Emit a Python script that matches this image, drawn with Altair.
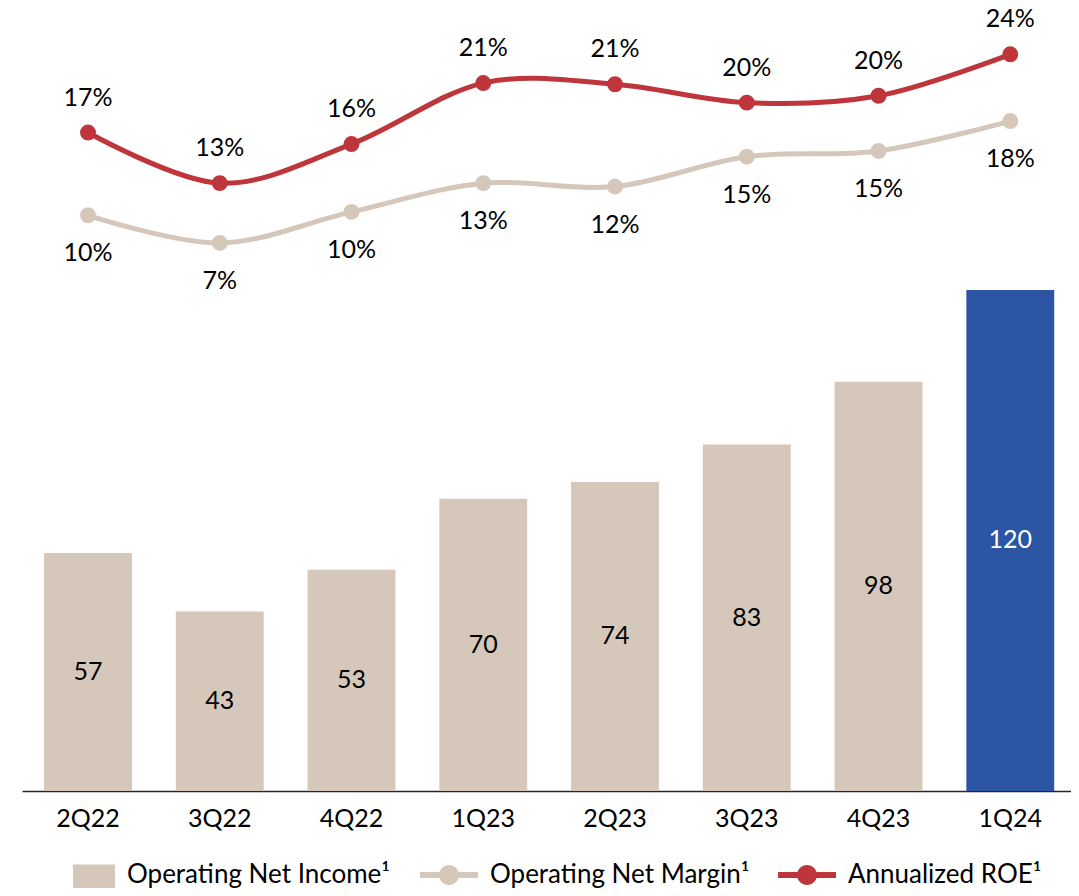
import math
import altair as alt
import pandas as pd

quarters = ["2Q22", "3Q22", "4Q22", "1Q23", "2Q23", "3Q23", "4Q23", "1Q24"]
net_income = [57, 43, 53, 70, 74, 83, 98, 120]
net_margin = [0.098, 0.074, 0.101, 0.126, 0.123, 0.149, 0.154, 0.180]
annual_roe = [0.170, 0.126, 0.160, 0.213, 0.212, 0.196, 0.202, 0.238]

INCOME = "Operating Net Income¹"
LATEST = "Latest quarter"
MARGIN = "Operating Net Margin¹"
ROE = "Annualized ROE¹"
bar_group = [INCOME] * 7 + [LATEST]

TAN = "#D5C8BB"
BLUE = "#2C55A3"
RED = "#BE353B"
FONT = "Lato"
FS = 25
LFS = 26

df = pd.DataFrame({
    "idx": list(range(len(quarters))),
    "quarter": quarters,
    "income": net_income,
    "group": bar_group,
    MARGIN: net_margin,
    ROE: annual_roe,
})

x = alt.X(
    "quarter:N", sort=quarters,
    scale=alt.Scale(paddingInner=0.333, paddingOuter=0.1475, align=0.568, round=False),
    axis=alt.Axis(title=None, labelAngle=0, labelFont=FONT, labelFontSize=FS,
                  labelColor="#000000", labelPadding=15, ticks=False,
                  domainColor="#262626", domainWidth=1.5, grid=False),
)

base = alt.Chart(df)
ybar_scale = alt.Scale(domain=[0, 187.5], nice=False, zero=True)

SQUARE = "M-1,-0.5L1,-0.5L1,1.6L-1,1.6Z"

bars = base.mark_bar().encode(
    x=x,
    y=alt.Y("income:Q", scale=ybar_scale, axis=None),
    color=alt.Color(
        "group:N",
        scale=alt.Scale(domain=[INCOME, LATEST], range=[TAN, BLUE]),
        legend=alt.Legend(title=None, orient="none", legendX=51, legendY=846,
                          values=[INCOME], symbolType=SQUARE, symbolSize=1764,
                          symbolStrokeWidth=0, labelFont=FONT, labelFontSize=LFS,
                          labelColor="#000000", labelOffset=12, padding=0,
                          labelLimit=0),
    ),
)

bar_text = base.transform_calculate(half="datum.income / 2").mark_text(
    font=FONT, fontSize=FS, baseline="middle"
).encode(
    x=x,
    y=alt.Y("half:Q", scale=ybar_scale, axis=None),
    text=alt.Text("income:Q"),
    color=alt.condition("datum.quarter == '1Q24'", alt.value("#FFFFFF"), alt.value("#000000")),
)

bar_layer = alt.layer(bars, bar_text)

lines_base = base.transform_fold([MARGIN, ROE], as_=["series", "pct"])
yl = alt.Y("pct:Q", scale=alt.Scale(domain=[-0.4026, 0.2783], nice=False, zero=False), axis=None)

# legend glyph: a short thick line with a dot in the middle (unit coordinates)
r = 0.345
circle_pts = ["%.4f,%.4f" % (r * math.cos(2 * math.pi * k / 32), r * math.sin(2 * math.pi * k / 32))
              for k in range(32)]
LEG_PATH = "M-1,-0.1L1,-0.1L1,0.1L-1,0.1Z M" + "L".join(circle_pts) + "Z"

margin_line = lines_base.transform_filter(alt.datum.series == MARGIN).mark_line(
    interpolate="cardinal", strokeWidth=5, color=TAN
).encode(x=x, y=yl, order="idx:Q")

roe_line = lines_base.transform_filter(alt.datum.series == ROE).mark_line(
    interpolate="cardinal", strokeWidth=5, color=RED
).encode(x=x, y=yl, order="idx:Q")

points = lines_base.mark_circle(size=254, opacity=1).encode(
    x=x, y=yl,
    fill=alt.Fill(
        "series:N", scale=alt.Scale(domain=[MARGIN, ROE], range=[TAN, RED]),
        legend=alt.Legend(title=None, orient="none", legendX=398, legendY=838,
                          direction="horizontal", symbolType=LEG_PATH, symbolSize=3364,
                          symbolStrokeWidth=0, symbolOpacity=1, labelFont=FONT,
                          labelFontSize=LFS, labelColor="#000000", labelOffset=12,
                          columnPadding=28, padding=0, labelLimit=0),
    ),
)

roe_labels = lines_base.transform_filter(alt.datum.series == ROE).mark_text(
    font=FONT, fontSize=FS, baseline="middle", dy=-35, color="#000000"
).encode(x=x, y=yl, text=alt.Text("pct:Q", format=".0%"))

margin_labels = lines_base.transform_filter(alt.datum.series == MARGIN).mark_text(
    font=FONT, fontSize=FS, baseline="middle", dy=38, color="#000000"
).encode(x=x, y=yl, text=alt.Text("pct:Q", format=".0%"))

line_layer = alt.layer(margin_line, roe_line, points, roe_labels, margin_labels)

chart = alt.layer(bar_layer, line_layer).resolve_scale(y="independent").properties(
    width=1049, height=783, background="white",
    autosize=alt.AutoSizeParams(type="none"),
    padding={"left": 14, "top": 0, "right": 0, "bottom": 97},
).configure_view(stroke=None)

chart.save("out.html", embed_options={"renderer": "svg", "actions": False})
